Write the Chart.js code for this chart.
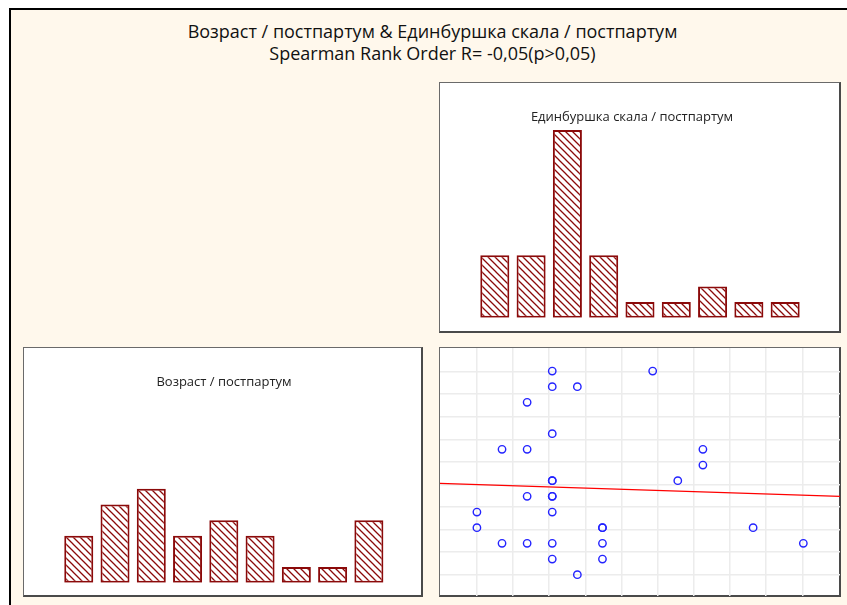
<!DOCTYPE html>
<html>
<head>
<meta charset="utf-8">
<script src="https://cdn.jsdelivr.net/npm/chart.js@4"></script>
<style>
  html, body { margin: 0; padding: 0; background: #fff; overflow: hidden; }
  body { width: 847px; height: 605px; position: relative; }
  .frame { position: absolute; left: 9px; top: 8px; width: 900px; height: 700px; box-sizing: border-box;
           border: 2px solid #000; background: #fff8ec; }
  .title { position: absolute; left: 9px; width: 847px; top: 20px; text-align: center;
           font-family: "Open Sans", "Noto Sans", sans-serif; font-size: 18px; line-height: 22px; color: #111; }
  .box { position: absolute; box-sizing: border-box; background: #fff;
         border: 1px solid #6a6a6a; border-right: 2px solid #4a4a4a; border-bottom: 2px solid #4a4a4a; }
  canvas { position: absolute; }
</style>
</head>
<body>
<div class="frame"></div>
<div class="title">Возраст / постпартум &amp; Единбуршка скала / постпартум<br>Spearman Rank Order R= -0,05(p&gt;0,05)</div>
<div class="box" style="left:439px;top:82px;width:402px;height:251px"></div>
<div class="box" style="left:23px;top:347px;width:400px;height:250px"></div>
<div class="box" style="left:439px;top:347px;width:402px;height:250px"></div>
<canvas id="edHist" width="384" height="249" style="left:440px;top:83px"></canvas>
<canvas id="ageHist" width="400" height="248" style="left:24px;top:348px"></canvas>
<canvas id="scatter" width="400" height="248" style="left:440px;top:348px"></canvas>
<script>
// histogram bins (bin number) and counts
const edinburghBins = [1, 2, 3, 4, 5, 6, 7, 8, 9];
const edinburghCounts = [4, 4, 12, 4, 1, 1, 2, 1, 1];
const ageBins = [1, 2, 3, 4, 5, 6, 7, 8, 9];
const ageCounts = [3, 5, 6, 3, 4, 3, 1, 1, 4];

// scatter: age vs Edinburgh score
const ages   = [22, 26, 22, 23, 21, 22, 20, 21, 28, 28, 22, 22, 27, 21, 22, 22, 19, 22, 19, 24, 24, 30, 20, 21, 22, 24, 32, 22, 24, 23];
const scores = [13, 13, 12, 12, 11,  9,  8,  8,  8,  7,  6,  6,  6,  5,  5,  5,  4,  4,  3,  3,  3,  3,  2,  2,  2,  2,  2,  1,  1,  0];
const xGrid = [19, 20.44, 21.88, 23.32, 24.76, 26.2, 27.64, 29.08, 30.52, 31.96];
const yGrid = [0, 1.44, 2.88, 4.32, 5.76, 7.2, 8.64, 10.08, 11.52, 12.96];

const RED = '#8b0a0a';
const FONT = '"Open Sans", "Noto Sans", sans-serif';

function hatch() {
  const c = document.createElement('canvas');
  c.width = c.height = 7;
  const g = c.getContext('2d');
  g.fillStyle = '#fff';
  g.fillRect(0, 0, 7, 7);
  g.strokeStyle = RED;
  g.lineWidth = 1.3;
  g.beginPath();
  g.moveTo(-1, -1); g.lineTo(8, 8);
  g.moveTo(-1, 6); g.lineTo(1, 8);
  g.moveTo(6, -1); g.lineTo(8, 1);
  g.stroke();
  return g.createPattern(c, 'repeat');
}

function histogram(id, title, bins, counts, xMin, xMax, padBottom) {
  new Chart(document.getElementById(id), {
    type: 'bar',
    data: {
      datasets: [{
        data: bins.map((b, i) => ({ x: b, y: counts[i] })),
        backgroundColor: hatch(),
        borderColor: RED,
        borderWidth: 2,
        borderSkipped: false,
        barPercentage: 0.8,
        categoryPercentage: 1
      }]
    },
    options: {
      responsive: false,
      animation: false,
      layout: { autoPadding: false, padding: { left: 0, right: 0, top: 0, bottom: padBottom } },
      plugins: {
        legend: { display: false },
        tooltip: { enabled: false },
        title: {
          display: true, text: title, color: '#222',
          font: { family: FONT, size: 13, weight: 'normal' },
          padding: { top: 26, bottom: 4 }
        }
      },
      scales: {
        x: { type: 'linear', display: false, offset: false, min: xMin, max: xMax,
             afterBuildTicks: s => { s.ticks = bins.map(v => ({ value: v })); } },
        y: { display: false, min: 0, max: 12.09 }
      }
    }
  });
}

histogram('edHist', 'Единбуршка скала / постпартум', edinburghBins, edinburghCounts, -0.51, 10.07, 14.3);
histogram('ageHist', 'Возраст / постпартум', ageBins, ageCounts, -0.51, 10.52, 13.3);

// least squares line through the scatter
const n = ages.length;
const mx = ages.reduce((a, b) => a + b, 0) / n;
const my = scores.reduce((a, b) => a + b, 0) / n;
let sxy = 0, sxx = 0;
ages.forEach((x, i) => { sxy += (x - mx) * (scores[i] - my); sxx += (x - mx) * (x - mx); });
const slope = sxy / sxx;
const icpt = my - slope * mx;
const X_MIN = 17.53, X_MAX = 33.46;

new Chart(document.getElementById('scatter'), {
  type: 'scatter',
  data: {
    datasets: [{
      data: ages.map((a, i) => ({ x: a, y: scores[i] })),
      pointRadius: 3.7,
      pointBorderWidth: 1.4,
      borderColor: '#2323ff',
      backgroundColor: 'rgba(255,255,255,0)'
    }, {
      data: [{ x: X_MIN, y: icpt + slope * X_MIN }, { x: X_MAX, y: icpt + slope * X_MAX }],
      showLine: true,
      pointRadius: 0,
      borderColor: '#ff0000',
      borderWidth: 1.2
    }]
  },
  options: {
    responsive: false,
    animation: false,
    layout: { autoPadding: false, padding: 0 },
    plugins: { legend: { display: false }, tooltip: { enabled: false } },
    scales: {
      x: { min: X_MIN, max: X_MAX,
           ticks: { display: false },
           grid: { color: '#ececec', lineWidth: 1.5, drawTicks: false },
           border: { display: false },
           afterBuildTicks: s => { s.ticks = xGrid.map(v => ({ value: v })); } },
      y: { min: -1.36, max: 14.47,
           ticks: { display: false },
           grid: { color: '#ececec', lineWidth: 1.5, drawTicks: false },
           border: { display: false },
           afterBuildTicks: s => { s.ticks = yGrid.map(v => ({ value: v })); } }
    }
  }
});
</script>
</body>
</html>
